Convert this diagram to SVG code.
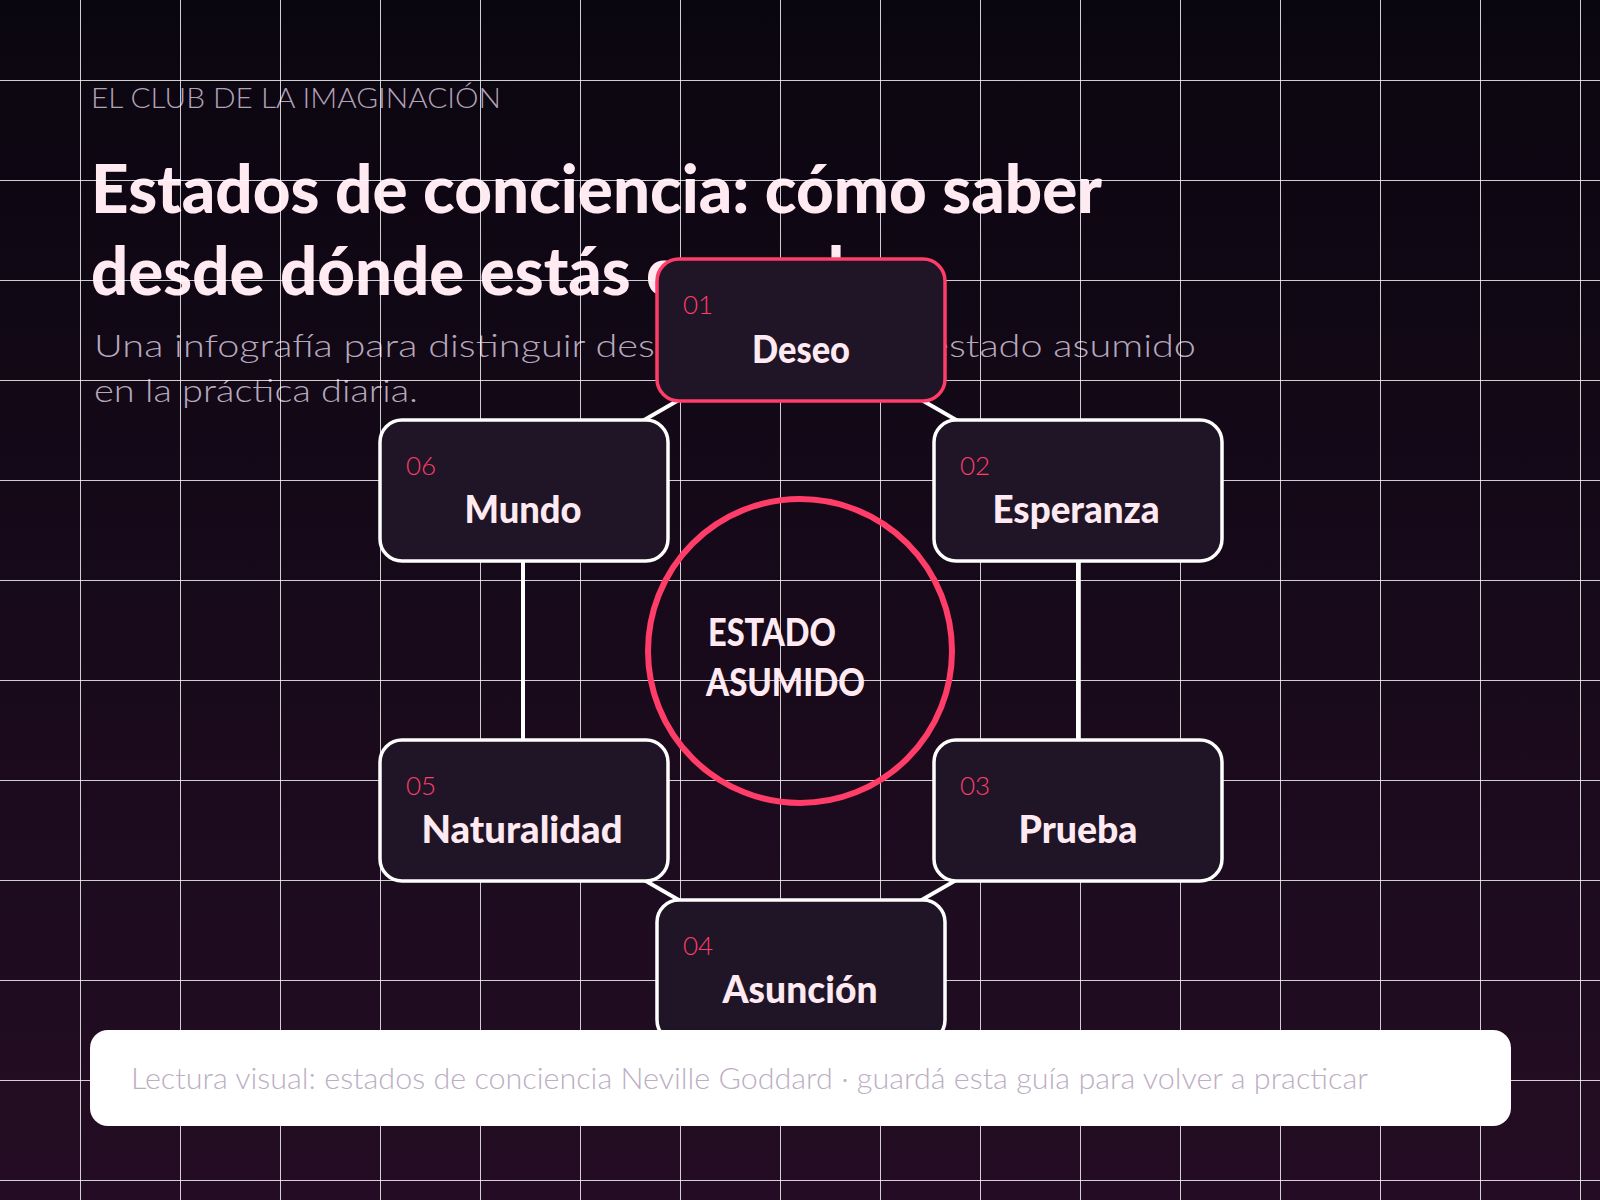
<svg xmlns="http://www.w3.org/2000/svg" width="1600" height="1200" viewBox="0 0 1600 1200">
  <defs>
    <linearGradient id="bg" x1="0" y1="0" x2="0" y2="1">
      <stop offset="0" stop-color="#0a0610"/>
      <stop offset="1" stop-color="#240d24"/>
    </linearGradient>
    <style>
      .light { font-family: Lato, "Open Sans", "Noto Sans", sans-serif; font-weight: 300; }
      .bold { font-family: Lato, "Open Sans", "Noto Sans", sans-serif; font-weight: 900; fill: #ffeaf2; }
      .grid { stroke: #ffffff; stroke-opacity: 0.8; stroke-width: 1; fill: none; }
      .edge { stroke: #ffffff; stroke-width: 4; fill: none; }
      .box { fill: #1f1526; stroke: #ffffff; stroke-width: 3.5; }
      .box.hl { stroke: #ff3d68; }
      .num { font-family: Lato, "Open Sans", "Noto Sans", sans-serif; font-weight: 300; font-size: 26px; fill: #ff3d68; }
      .lbl { font-size: 38px; text-anchor: middle; }
    </style>
  </defs>

  <rect width="1600" height="1200" fill="url(#bg)"/>

  <g id="header">
    <text class="light" x="91" y="108" font-size="27" fill="#b3a3b8" textLength="410" lengthAdjust="spacingAndGlyphs">EL CLUB DE LA IMAGINACIÓN</text>
    <text class="bold" x="91" y="213" font-size="66" textLength="1011" lengthAdjust="spacingAndGlyphs">Estados de conciencia: cómo saber</text>
    <text class="bold" x="91" y="295" font-size="66" textLength="791" lengthAdjust="spacingAndGlyphs">desde dónde estás creando</text>
    <text class="light" x="94" y="357" font-size="31" fill="#b8a8be" textLength="1102" lengthAdjust="spacingAndGlyphs">Una infografía para distinguir deseo, esperanza y estado asumido</text>
    <text class="light" x="94" y="402" font-size="31" fill="#b8a8be" textLength="324" lengthAdjust="spacingAndGlyphs">en la práctica diaria.</text>
  </g>

  <g id="grid">
    <path class="grid" d="M80.5 0V1200M180.5 0V1200M280.5 0V1200M380.5 0V1200M480.5 0V1200M580.5 0V1200M680.5 0V1200M780.5 0V1200M880.5 0V1200M980.5 0V1200M1080.5 0V1200M1180.5 0V1200M1280.5 0V1200M1380.5 0V1200M1480.5 0V1200M1580.5 0V1200M0 80.5H1600M0 180.5H1600M0 280.5H1600M0 380.5H1600M0 480.5H1600M0 580.5H1600M0 680.5H1600M0 780.5H1600M0 880.5H1600M0 980.5H1600M0 1080.5H1600M0 1180.5H1600"/>
  </g>

  <g id="connectors">
    <line class="edge" x1="800" y1="330" x2="1078" y2="490"/>
    <line class="edge" x1="1078" y1="490" x2="1078" y2="810"/>
    <line class="edge" x1="1078" y1="810" x2="800" y2="970"/>
    <line class="edge" x1="800" y1="970" x2="523" y2="810"/>
    <line class="edge" x1="523" y1="810" x2="523" y2="490"/>
    <line class="edge" x1="523" y1="490" x2="800" y2="330"/>
  </g>

  <g id="center">
    <circle cx="800" cy="651" r="152" fill="none" stroke="#ff3d68" stroke-width="6"/>
    <text class="bold" x="708" y="646" font-size="38" textLength="128" lengthAdjust="spacingAndGlyphs">ESTADO</text>
    <text class="bold" x="706" y="696" font-size="38" textLength="159" lengthAdjust="spacingAndGlyphs">ASUMIDO</text>
  </g>

  <g id="node-01">
    <rect class="box hl" x="657" y="259" width="288" height="142" rx="22"/>
    <text class="num" x="683" y="314">01</text>
    <text class="bold lbl" x="801" y="363" textLength="98" lengthAdjust="spacingAndGlyphs">Deseo</text>
  </g>
  <g id="node-02">
    <rect class="box" x="934" y="420" width="288" height="141" rx="22"/>
    <text class="num" x="960" y="475">02</text>
    <text class="bold lbl" x="1076" y="523" textLength="167" lengthAdjust="spacingAndGlyphs">Esperanza</text>
  </g>
  <g id="node-03">
    <rect class="box" x="934" y="740" width="288" height="141" rx="22"/>
    <text class="num" x="960" y="795">03</text>
    <text class="bold lbl" x="1078" y="843" textLength="119" lengthAdjust="spacingAndGlyphs">Prueba</text>
  </g>
  <g id="node-04">
    <rect class="box" x="657" y="900" width="288" height="142" rx="22"/>
    <text class="num" x="683" y="955">04</text>
    <text class="bold lbl" x="800" y="1003" textLength="155" lengthAdjust="spacingAndGlyphs">Asunción</text>
  </g>
  <g id="node-05">
    <rect class="box" x="380" y="740" width="288" height="141" rx="22"/>
    <text class="num" x="406" y="795">05</text>
    <text class="bold lbl" x="522" y="843" textLength="201" lengthAdjust="spacingAndGlyphs">Naturalidad</text>
  </g>
  <g id="node-06">
    <rect class="box" x="380" y="420" width="288" height="141" rx="22"/>
    <text class="num" x="406" y="475">06</text>
    <text class="bold lbl" x="523" y="523" textLength="117" lengthAdjust="spacingAndGlyphs">Mundo</text>
  </g>

  <g id="footer">
    <rect x="90" y="1030" width="1421" height="96" rx="18" fill="#ffffff"/>
    <text class="light" x="131" y="1089" font-size="29" fill="#bcaec4" textLength="1237" lengthAdjust="spacingAndGlyphs">Lectura visual: estados de conciencia Neville Goddard · guardá esta guía para volver a practicar</text>
  </g>
</svg>
